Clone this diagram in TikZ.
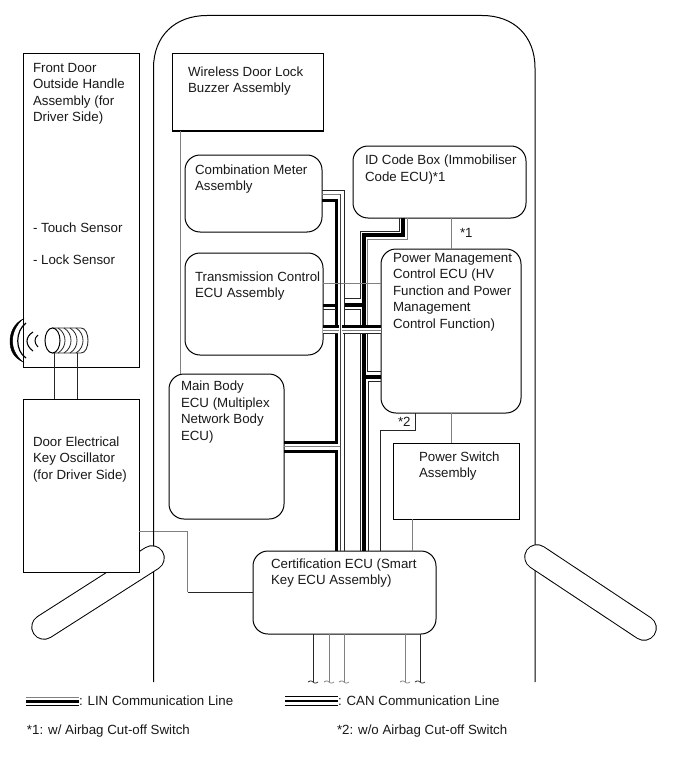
\documentclass[tikz,border=0pt]{standalone}
\usepackage{fontspec}
\usetikzlibrary{shapes.geometric}
\setmainfont{Liberation Sans}
\begin{document}
\begin{tikzpicture}[x=1pt,y=-1pt,
  sq/.style={draw=black,line width=1pt,fill=white,anchor=north west,inner sep=0pt,outer sep=0pt},
  rbox/.style={sq,rounded corners=15pt},
  txt/.style={anchor=north west,align=left,inner sep=0pt,outer sep=0pt,font=\fontsize{13.3}{16.5}\selectfont,text=black!90},
  thin1/.style={line width=1pt,black!85},
  grayw/.style={line width=1pt,black!50},
  thick1/.style={line width=3pt,black},
  thick2/.style={line width=4pt,black},
  car/.style={line width=1pt,black},
  handle/.style={double=white,double distance=23.5pt,line width=1pt,draw=black,line cap=round}]
\useasboundingbox (0,0) rectangle (691,757);
\path[fill=white] (0,0) rectangle (691,757);

% car outline
\coordinate (carbl) at (153.5,682);
\coordinate (carbr) at (535,682);
\draw[car] (carbl) -- (153.5,68) .. controls (153.5,36) and (175,15.5) .. (207,15.5) -- (482,15.5) .. controls (514,15.5) and (535,36) .. (535,68) -- (carbr);

% door handles
\coordinate (hl1) at (152,558); \coordinate (hl2) at (44,627);
\coordinate (hr1) at (537,557); \coordinate (hr2) at (644,628);
\draw[handle] (hl1) -- (hl2);
\draw[handle] (hr1) -- (hr2);

% boxes
\node[sq,minimum width=116pt,minimum height=313pt] (fd) at (23,54) {};
\node[sq,minimum width=116pt,minimum height=173pt] (osc) at (23,399) {};
\node[sq,minimum width=151pt,minimum height=77pt] (wl) at (172,54) {};
\node[rbox,minimum width=137pt,minimum height=77pt] (cm) at (185,155) {};
\node[rbox,minimum width=173pt,minimum height=72pt] (id) at (353,146) {};
\node[rbox,minimum width=138pt,minimum height=102pt] (tc) at (185,253) {};
\node[rbox,minimum width=140pt,minimum height=164pt] (pm) at (381,249) {};
\node[rbox,minimum width=115pt,minimum height=145pt] (mb) at (169,374) {};
\node[sq,minimum width=126pt,minimum height=76pt] (ps) at (393,443) {};
\node[rbox,minimum width=183pt,minimum height=83pt] (ce) at (253,551) {};

% single wires
\draw[grayw] (wl.south -| 180.5,0) -- (mb.north -| 180.5,0);
\draw[grayw] (id.south -| 451,0) -- (pm.north -| 451,0);
\draw[grayw] (pm.south -| 451,0) -- (ps.north -| 451,0);
\draw[grayw] (ps.south -| 412.5,0) -- (ce.north -| 412.5,0);
\draw[thin1] (pm.south -| 415.7,0) -- (415.7,430.5) -- (380.5,430.5) -- (ce.north -| 380.5,0);
\draw[grayw] (osc.east |- 0,531) -- (187.5,531) -- (187.5,592);
\draw[thin1] (187.5,592) -- (ce.west |- 0,592);
\draw[car] (153.5,515) -- (153.5,546);

% coil wires
\draw[thin1] (54,353) -- (osc.north -| 54,0);
\draw[thin1] (77.5,353) -- (osc.north -| 77.5,0);

% coil
\draw[line width=0.9pt,black!85] (52,328) -- (81,328) .. controls (85.5,328) and (88,334) .. (88,340.5) .. controls (88,347) and (85.5,353) .. (81,353) -- (52,353);
\foreach \cx in {58,64,70,76}{
  \draw[line width=0.8pt,black!85] (\cx,328) .. controls (\cx+5,331) and (\cx+7,336) .. (\cx+7,340.5) .. controls (\cx+7,345) and (\cx+5,350) .. (\cx,353);
}
\node[draw=black,line width=1pt,ellipse,fill=white,minimum width=15pt,minimum height=25pt,inner sep=0pt] (coil) at (52.5,340.5) {};

% waves
\draw[line width=0.4pt,fill=black] (23,319) .. controls (13,324) and (10,334) .. (10,341) .. controls (10,350) and (13,357) .. (23,362) .. controls (16,356) and (12.5,349) .. (12.5,341) .. controls (12.5,333) and (16,325) .. (23,319) -- cycle;
\draw[line width=1.2pt] (26,323) .. controls (15,331) and (15,351) .. (26,358);
\draw[line width=1.1pt] (33,332) .. controls (25,337) and (25,345) .. (33,351);
\draw[line width=1pt] (38,335) .. controls (34,338) and (34,343) .. (38,347);

% bus: combination meter / main body / transmission verticals
\draw[thick1] (cm.east |- 0,200.5) -- (336.5,200.5) -- (336.5,442);
\draw[thick1] (mb.east |- 0,442) -- (338,442);
\draw[thick1] (mb.east |- 0,451) -- (336.5,451) -- (ce.north -| 336.5,0);
\draw[grayw] (mb.east |- 0,446.5) -- (340.5,446.5);
\draw[grayw] (cm.east |- 0,194) -- (340.5,194) -- (ce.north -| 340.5,0);
\draw[thin1,line width=1.4pt] (cm.east |- 0,190.5) -- (344.5,190.5) -- (ce.north -| 344.5,0);

% bus: ID code box
\draw[thin1] (id.south -| 399,0) -- (399,231) -- (360,231) -- (360,298) -- (345,298);
\draw[thick2] (id.south -| 403,0) -- (403,235) -- (364,235) -- (364,551);
\draw[grayw] (id.south -| 407.5,0) -- (407.5,239.5) -- (367.5,239.5) -- (367.5,325);
\draw[thin1] (360,309) -- (360,325);

% branch to transmission, upper
\draw[grayw] (tc.east |- 0,283) -- (pm.west |- 0,283);
\draw[thick1] (tc.east |- 0,305) -- (336,305);
\draw[thin1] (tc.east |- 0,309) -- (336,309);
\draw[thick2] (345,305) -- (363,305);
\draw[thin1] (345,309) -- (360,309);

% crossing bus
\fill[white] (tc.east |- 0,327.5) rectangle (pm.west |- 0,333);
\draw[thick1] (tc.east |- 0,326) -- (pm.west |- 0,326);
\draw[grayw] (tc.east |- 0,330) -- (pm.west |- 0,330);
\draw[thin1] (tc.east |- 0,333.5) -- (338,333.5);
\draw[thin1] (343,333.5) -- (pm.west |- 0,333.5);
\fill[white] (339,320) rectangle (342,340);
\draw[line width=1pt,black!75] (340.5,194) -- (340.5,551);

% bus to power management ECU
\draw[thin1] (360,333.5) -- (ce.north -| 360,0);
\draw[thin1] (367.5,333.5) -- (367.5,371) -- (pm.west |- 0,371);
\draw[thick2] (364,377) -- (pm.west |- 0,377);
\draw[thin1] (pm.west |- 0,381.5) -- (368,381.5) -- (ce.north -| 368,0);

% bottom stubs
\foreach \sx/\sc in {313/85,329/50,344/50,405/50,420/85}{
  \draw[line width=1pt,black!\sc] (\sx,634) -- (\sx,682);
  \draw[line width=0.7pt,black!\sc] (\sx-5,682) .. controls (\sx-2,680) and (\sx-1,681) .. (\sx,682) .. controls (\sx+1,683) and (\sx+2,684) .. (\sx+5,682);
}

% legend
\coordinate (lina) at (26,697.5); \coordinate (linb) at (79,697.5);
\draw[grayw] (lina) -- (linb);
\draw[line width=3pt] (26,701.5) -- (79,701.5);
\draw[line width=1pt] (26,705.5) -- (79,705.5);
\draw[line width=1pt] (285,696.7) -- (338,696.7);
\draw[line width=2.2pt] (285,701) -- (338,701);
\draw[line width=1pt] (285,705.5) -- (338,705.5);

% texts
\node[txt] (t1) at (33,63) {Front Door\\Outside Handle\\Assembly (for\\Driver Side)};
\node[txt] (t2) at (33,223) {- Touch Sensor};
\node[txt] (t3) at (33,255) {- Lock Sensor};
\node[txt] (t4) at (33,436.5) {Door Electrical\\Key Oscillator\\(for Driver Side)};
\node[txt] (t5) at (188,66.5) {Wireless Door Lock\\Buzzer Assembly};
\node[txt] (t6) at (195,164.5) {Combination Meter\\Assembly};
\node[txt] (t7) at (365,155) {ID Code Box (Immobiliser\\Code ECU)*1};
\node[txt] (t8) at (195,271.5) {Transmission Control\\ECU Assembly};
\node[txt] (t9) at (393,253) {Power Management\\Control ECU (HV\\Function and Power\\Management\\Control Function)};
\node[txt] (t10) at (181,381) {Main Body\\ECU (Multiplex\\Network Body\\ECU)};
\node[txt] (t11) at (419,451.5) {Power Switch\\Assembly};
\node[txt] (t12) at (271,558.5) {Certification ECU (Smart\\Key ECU Assembly)};
\node[txt] (t13) at (460,228.5) {*1};
\node[txt] (t14) at (398,417.5) {*2};
\node[txt,anchor=west] (t15) at (79,701) {: LIN Communication Line};
\node[txt,anchor=west] (t16) at (338,701) {: CAN Communication Line};
\node[txt,anchor=west] (t17) at (27,731) {*1: w/ Airbag Cut-off Switch};
\node[txt,anchor=west] (t18) at (337,731) {*2: w/o Airbag Cut-off Switch};
\end{tikzpicture}
\end{document}
